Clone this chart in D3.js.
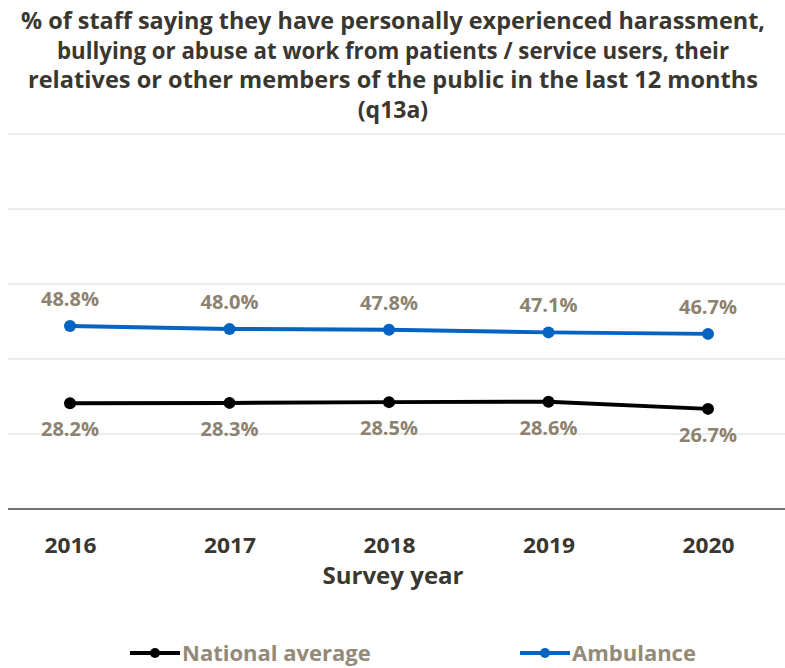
<!DOCTYPE html>
<html>
<head>
<meta charset="utf-8">
<script src="https://cdn.jsdelivr.net/npm/d3@7"></script>
<style>
  body { margin: 0; background: #fff; }
  text { font-family: "Open Sans", "Noto Sans", sans-serif; }
</style>
</head>
<body>
<script>
const years = ["2016", "2017", "2018", "2019", "2020"]
const national = [28.2, 28.3, 28.5, 28.6, 26.7]
const ambulance = [48.8, 48.0, 47.8, 47.1, 46.7]
const gridTicks = [20, 40, 60, 80, 100]
const titleLines = [
  "% of staff saying they have personally experienced harassment,",
  "bullying or abuse at work from patients / service users, their",
  "relatives or other members of the public in the last 12 months",
  "(q13a)"
]

const W = 785, H = 668
const svg = d3.select("body").append("svg")
  .attr("width", W).attr("height", H)

// title
svg.append("g").selectAll("text")
  .data(titleLines)
  .join("text")
  .attr("x", 393)
  .attr("y", (d, i) => 29 + i * 29.5)
  .attr("text-anchor", "middle")
  .style("font-size", "23px")
  .style("font-weight", "bold")
  .style("fill", "#3a3630")
  .attr("textLength", (d, i) => i < 3 ? [744, 672, 730][i] : null)
  .attr("lengthAdjust", "spacingAndGlyphs")
  .text(d => d)

const x = d3.scalePoint().domain(years).range([70, 708])
const y = d3.scaleLinear().domain([0, 100]).range([509, 134])

// gridlines
svg.append("g").selectAll("line")
  .data(gridTicks)
  .join("line")
  .attr("x1", 8).attr("x2", W)
  .attr("y1", d => y(d)).attr("y2", d => y(d))
  .style("stroke", "#d9d9d9")
  .style("stroke-width", 1.2)

// x axis
const xAxis = svg.append("g")
  .attr("transform", `translate(0,${y(0)})`)
  .call(d3.axisBottom(x).tickSize(0).tickPadding(29))
xAxis.select(".domain").remove()
xAxis.selectAll("text")
  .style("font-size", "21px")
  .style("font-weight", "bold")
  .style("fill", "#3a3630")
  .style("font-family", "'Open Sans', sans-serif")
  .attr("textLength", 52).attr("lengthAdjust", "spacingAndGlyphs")
svg.append("line")
  .attr("x1", 8).attr("x2", W)
  .attr("y1", y(0)).attr("y2", y(0))
  .style("stroke", "#767171")
  .style("stroke-width", 2)

svg.append("text")
  .attr("x", 393).attr("y", 584)
  .attr("text-anchor", "middle")
  .style("font-size", "23px")
  .style("font-weight", "bold")
  .style("fill", "#3a3630")
  .attr("textLength", 141).attr("lengthAdjust", "spacingAndGlyphs")
  .text("Survey year")

const series = [
  {name: "National average", values: national, color: "#000000", dy: 33},
  {name: "Ambulance", values: ambulance, color: "#0563c1", dy: -20}
]

const line = d3.line().x((d, i) => x(years[i])).y(d => y(d))

series.forEach(s => {
  const g = svg.append("g")
  g.append("path")
    .datum(s.values)
    .attr("d", line)
    .style("fill", "none")
    .style("stroke", s.color)
    .style("stroke-width", 4)
  g.selectAll("circle")
    .data(s.values)
    .join("circle")
    .attr("cx", (d, i) => x(years[i]))
    .attr("cy", d => y(d))
    .attr("r", 6)
    .style("fill", s.color)
  g.selectAll("text")
    .data(s.values)
    .join("text")
    .attr("x", (d, i) => x(years[i]))
    .attr("y", d => y(d) + s.dy)
    .attr("text-anchor", "middle")
    .style("font-size", "20px")
    .style("font-weight", "bold")
    .style("fill", "#8c826f")
    .text(d => d.toFixed(1) + "%")
})

// legend
const legendPos = [130, 520]
series.forEach((s, i) => {
  const g = svg.append("g").attr("transform", `translate(${legendPos[i]},653)`)
  g.append("line").attr("x1", 0).attr("x2", 50)
    .style("stroke", s.color).style("stroke-width", 4)
  g.append("circle").attr("cx", 25).attr("r", 5).style("fill", s.color)
  g.append("text").attr("x", 52).attr("y", 8)
    .style("font-size", "22px")
    .style("font-weight", "bold")
    .style("fill", "#948a78")
    .text(s.name)
})
</script>
</body>
</html>
